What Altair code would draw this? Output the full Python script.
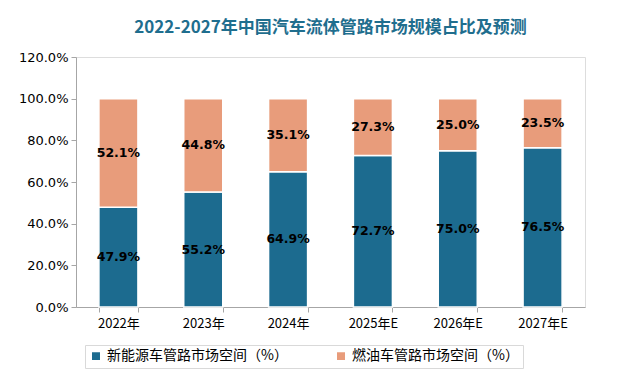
import altair as alt
import pandas as pd

years = ["2022年", "2023年", "2024年", "2025年E", "2026年E", "2027年E"]
new_energy = [47.9, 55.2, 64.9, 72.7, 75.0, 76.5]
fuel = [52.1, 44.8, 35.1, 27.3, 25.0, 23.5]
series = ["新能源车管路市场空间（%）", "燃油车管路市场空间（%）"]
colors = ["#1c6b8f", "#e89c7b"]

rows = []
for i, y in enumerate(years):
    rows.append({"year": y, "series": series[0], "value": new_energy[i] / 100, "ord": 0})
    rows.append({"year": y, "series": series[1], "value": fuel[i] / 100, "ord": 1})
df = pd.DataFrame(rows)

FONT = "Noto Sans CJK SC"

base = alt.Chart(df).transform_stack(
    stack="value", groupby=["year"], as_=["v0", "v1"], sort=[alt.SortField("ord")]
).transform_calculate(mid="(datum.v0 + datum.v1) / 2")

x = alt.X("year:N", sort=years, title=None,
          scale=alt.Scale(paddingInner=0.54, paddingOuter=0.27),
          axis=alt.Axis(labelAngle=0, labelFontSize=13, labelColor="#000000",
                        labelFont=FONT, tickBand="extent", domainColor="#a6a6a6",
                        tickColor="#a6a6a6", tickSize=5, labelPadding=5))

bars = base.mark_bar(stroke="white", strokeWidth=1.5).encode(
    x=x,
    y=alt.Y("v0:Q", title=None,
            scale=alt.Scale(domain=[0, 1.2]),
            axis=alt.Axis(format=".1%", values=[0, 0.2, 0.4, 0.6, 0.8, 1.0, 1.2],
                          labelFontSize=13, labelColor="#000000", labelFont="DejaVu Sans",
                          grid=False, domainColor="#a6a6a6", tickColor="#a6a6a6",
                          tickSize=5, labelPadding=3)),
    y2="v1:Q",
    color=alt.Color("series:N", sort=series,
                    scale=alt.Scale(domain=series, range=colors),
                    legend=alt.Legend(title=None, orient="none", direction="horizontal",
                                      legendX=9, legendY=288, symbolType="square",
                                      symbolSize=90, labelFontSize=14, labelFont=FONT,
                                      labelLimit=400,
                                      labelColor="#000000", columnPadding=45,
                                      strokeColor="#d9d9d9", padding=4)),
)

labels = base.mark_text(fontWeight="bold", fontSize=12.5, color="#000000", font="DejaVu Sans").encode(
    x=alt.X("year:N", sort=years),
    y=alt.Y("mid:Q"),
    text=alt.Text("value:Q", format=".1%"),
)

chart = (bars + labels).properties(
    width=509, height=250,
    title=alt.TitleParams("2022-2027年中国汽车流体管路市场规模占比及预测",
                          fontSize=17, font=FONT, fontWeight="bold",
                          color="#1f6e8e", anchor="middle", offset=14),
).configure_view(fill="#f1f1f1", stroke=None).configure(padding={"left": 10, "top": 11, "right": 5, "bottom": 5})

chart.save("out.html", embed_options={"renderer": "svg", "actions": False})
